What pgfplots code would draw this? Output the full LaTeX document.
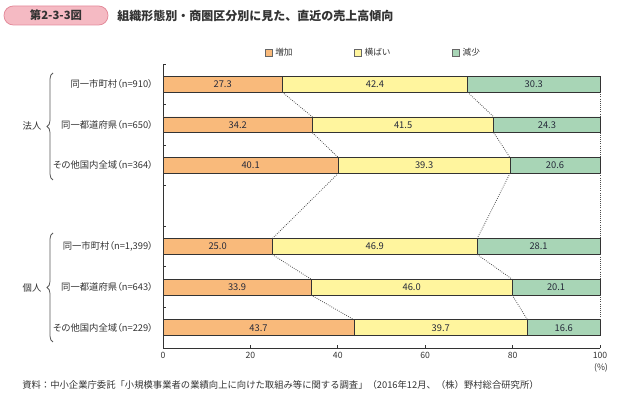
\documentclass[border=0pt]{standalone}
\usepackage{pgfplots}
\pgfplotsset{compat=1.18}
\usepackage{pgfplotstable}
\usepackage{fontspec}
\setmainfont{Noto Sans CJK JP}
\newfontfamily\paltfont[RawFeature=+palt]{Noto Sans CJK JP}
\usetikzlibrary{decorations.pathreplacing}
\definecolor{cinc}{HTML}{F9BA7B}
\definecolor{cflat}{HTML}{FFF59E}
\definecolor{cdec}{HTML}{A8D5B6}
\definecolor{txt}{HTML}{333333}
\definecolor{lbl}{HTML}{262A3A}
\definecolor{pinkf}{HTML}{F5BAC3}
\definecolor{pinkd}{HTML}{E48C9C}
\newcommand\fs[1]{\fontsize{#1}{#1}\selectfont}

\pgfplotstableread{
pos inc flat dec
6 27.3 42.4 30.3
5 34.2 41.5 24.3
4 40.1 39.3 20.6
2 25.0 46.9 28.1
1 33.9 46.0 20.1
0 43.7 39.7 16.6
}\shares

\begin{document}
\begin{tikzpicture}[x=0.75pt,y=0.75pt]
\useasboundingbox (0,0) rectangle (628,398);
% title
\draw[pinkd, fill=pinkf, rounded corners=7, line width=0.6pt] (4,373) rectangle (108,392);
\node[font=\fs{8.5}\bfseries, text=txt] at (56,382.5) {第2-3-3図};
\node[anchor=west, font=\fs{9}\bfseries, text=txt, inner sep=0pt] at (117,382.5) {組織形態別・商圏区分別に見た、直近の売上高傾向};
% group braces
\draw[decorate, decoration={brace, amplitude=4.5pt}, black!65, line width=0.6pt] (53,218) -- (53,325);
\draw[decorate, decoration={brace, amplitude=4.5pt}, black!65, line width=0.6pt] (53,56) -- (53,165);
\node[font=\fs{7}, text=txt] at (32,272) {法人};
\node[font=\fs{7}, text=txt] at (32,110) {個人};
% footnote
\node[anchor=west, font=\fs{7}, text=txt, inner sep=0pt] at (22,13) {資料：中小企業庁委託「小規模事業者の業績向上に向けた取組み等に関する調査」（2016年12月、（株）野村総合研究所）};

\begin{axis}[
  at={(122.25pt,37.5pt)}, anchor=south west,
  width=327.75pt, height=213pt, scale only axis,
  xbar stacked, bar width=0.39,
  xmin=0, xmax=100, ymin=-0.5, ymax=6.5,
  enlargelimits=false, clip=false,
  axis x line*=bottom, axis y line*=left,
  axis line style={-, black!80, line width=0.6pt},
  xtick={0,20,...,100},
  ytick={-0.5,0.5,...,6.5}, yticklabels={,,,,,,,,},
  tick align=inside, major tick length=2.5pt,
  tick style={black!80, line width=0.6pt},
  /pgf/number format/assume math mode=true,
  xticklabel style={font=\fs{6.5}, text=txt},
  legend style={at={(0.482,1)}, anchor=center, yshift=8.25pt, draw=none, fill=none,
    font=\fs{6.5}, text=txt, legend columns=3,
    /tikz/every even column/.append style={column sep=44pt}},
  legend image code/.code={\draw[#1, draw=black!60, line width=0.6pt] (0pt,-2.7pt) rectangle (5.4pt,2.7pt);},
]
\addplot[fill=cinc, draw=black!80, line width=0.6pt] table[x=inc, y=pos]{\shares};
\addlegendentry{増加}
\addplot[fill=cflat, draw=black!80, line width=0.6pt] table[x=flat, y=pos]{\shares};
\addlegendentry{横ばい}
\addplot[fill=cdec, draw=black!80, line width=0.6pt] table[x=dec, y=pos]{\shares};
\addlegendentry{減少}
% category labels
\node[anchor=east, font=\fs{7}\paltfont, text=txt, xshift=-4pt] at (axis cs:0,6) {同一市町村（n=910）};
\node[anchor=east, font=\fs{7}\paltfont, text=txt, xshift=-4pt] at (axis cs:0,5) {同一都道府県（n=650）};
\node[anchor=east, font=\fs{7}\paltfont, text=txt, xshift=-4pt] at (axis cs:0,4) {その他国内全域（n=364）};
\node[anchor=east, font=\fs{7}\paltfont, text=txt, xshift=-4pt] at (axis cs:0,2) {同一市町村（n=1,399）};
\node[anchor=east, font=\fs{7}\paltfont, text=txt, xshift=-4pt] at (axis cs:0,1) {同一都道府県（n=643）};
\node[anchor=east, font=\fs{7}\paltfont, text=txt, xshift=-4pt] at (axis cs:0,0) {その他国内全域（n=229）};
\node[font=\fs{6.5}, text=txt] at (rel axis cs:1,0) [yshift=-15pt, xshift=0.75pt] {(\%)};
\end{axis}

\begin{axis}[
  at={(122.25pt,37.5pt)}, anchor=south west,
  width=327.75pt, height=213pt, scale only axis,
  xmin=0, xmax=100, ymin=-0.5, ymax=6.5,
  enlargelimits=false, clip=false, hide axis,
]
% dotted connectors between consecutive bars
\addplot[densely dotted, black!70, line width=0.6pt, unbounded coords=jump] coordinates {
(27.3,5.805) (34.2,5.195) (nan,nan)
(34.2,4.805) (40.1,4.195) (nan,nan)
(40.1,3.805) (25.0,2.195) (nan,nan)
(25.0,1.805) (33.9,1.195) (nan,nan)
(33.9,0.805) (43.7,0.195)
};
\addplot[densely dotted, black!70, line width=0.6pt, unbounded coords=jump] coordinates {
(69.7,5.805) (75.7,5.195) (nan,nan)
(75.7,4.805) (79.4,4.195) (nan,nan)
(79.4,3.805) (71.9,2.195) (nan,nan)
(71.9,1.805) (79.9,1.195) (nan,nan)
(79.9,0.805) (83.4,0.195)
};
\addplot[densely dotted, black!70, line width=0.6pt, unbounded coords=jump] coordinates {
(100,5.805) (100,5.195) (nan,nan)
(100,4.805) (100,4.195) (nan,nan)
(100,3.805) (100,2.195) (nan,nan)
(100,1.805) (100,1.195) (nan,nan)
(100,0.805) (100,0.195)
};
% value labels at segment centres
\addplot[only marks, mark=*, mark size=0pt, mark options={draw=none, fill=none},
  nodes near coords, point meta=explicit symbolic,
  every node near coord/.append style={anchor=center, font=\fs{7}, text=lbl}]
coordinates {
(13.65,6) [27.3] (48.5,6) [42.4] (84.85,6) [30.3]
(17.1,5) [34.2] (54.95,5) [41.5] (87.85,5) [24.3]
(20.05,4) [40.1] (59.75,4) [39.3] (89.7,4) [20.6]
(12.5,2) [25.0] (48.45,2) [46.9] (85.95,2) [28.1]
(16.95,1) [33.9] (56.9,1) [46.0] (89.95,1) [20.1]
(21.85,0) [43.7] (63.55,0) [39.7] (91.7,0) [16.6]
};
\end{axis}
\end{tikzpicture}
\end{document}
